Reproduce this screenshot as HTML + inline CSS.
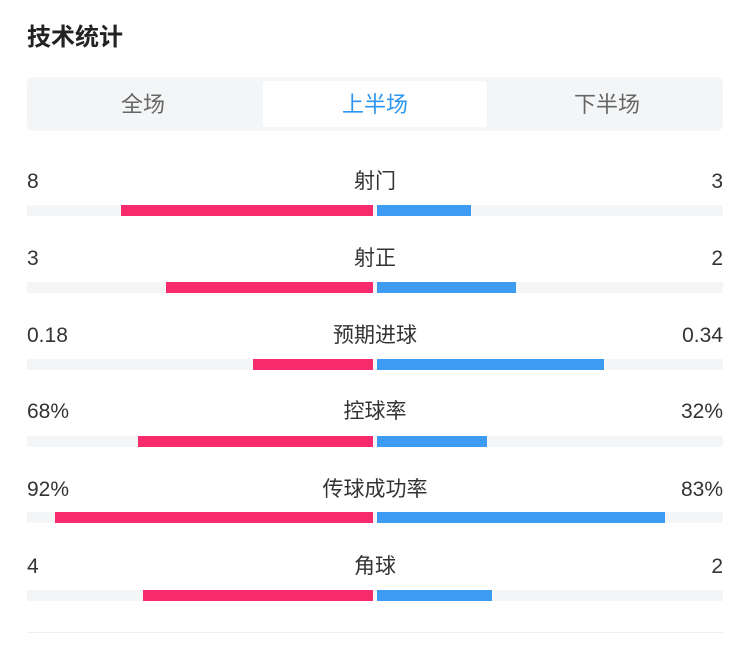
<!DOCTYPE html>
<html><head><meta charset="utf-8"><style>
body{margin:0;width:750px;height:657px;background:#fff;font-family:"Liberation Sans","Noto Sans CJK SC",sans-serif;position:relative;overflow:hidden;color:#333}
.t{position:absolute;left:27px;top:17px;font-size:24px;font-weight:bold;color:#222}
.tabs{position:absolute;left:27px;top:77px;width:696px;height:54px;background:#f4f5f7;border-radius:6px}
.tab{position:absolute;top:4px;height:46px;line-height:48px;width:224px;text-align:center;font-size:22px;color:#666}
.act{background:#fff;color:#2d96f0;border-radius:3px}
.l,.r,.c{position:absolute;font-size:21px;color:#333;line-height:24px}
.l{left:27px}.r{right:27px}.c{left:0;width:750px;text-align:center}
.tr{position:absolute;left:27px;width:696px;height:11px;background:#f4f5f7}
.red,.blue{position:absolute;height:11px}
.red{background:#f72a6c}.blue{background:#3d9cf2}
.line{position:absolute;left:27px;width:696px;top:632px;height:1px;background:#eee}
</style></head><body>
<div class="t">技术统计</div>
<div class="tabs">
<div class="tab" style="left:4px">全场</div>
<div class="tab act" style="left:236px">上半场</div>
<div class="tab" style="left:468px">下半场</div>
</div>

<div class="l" style="top:170px">8</div><div class="c" style="top:170px">射门</div><div class="r" style="top:170px">3</div>
<div class="tr" style="top:205px"></div><div class="red" style="top:205px;left:121px;width:252px"></div><div class="blue" style="top:205px;left:377px;width:94px"></div>

<div class="l" style="top:247px">3</div><div class="c" style="top:247px">射正</div><div class="r" style="top:247px">2</div>
<div class="tr" style="top:282px"></div><div class="red" style="top:282px;left:166px;width:207px"></div><div class="blue" style="top:282px;left:377px;width:139px"></div>

<div class="l" style="top:324px">0.18</div><div class="c" style="top:324px">预期进球</div><div class="r" style="top:324px">0.34</div>
<div class="tr" style="top:359px"></div><div class="red" style="top:359px;left:253px;width:120px"></div><div class="blue" style="top:359px;left:377px;width:227px"></div>

<div class="l" style="top:400px">68%</div><div class="c" style="top:400px">控球率</div><div class="r" style="top:400px">32%</div>
<div class="tr" style="top:436px"></div><div class="red" style="top:436px;left:138px;width:235px"></div><div class="blue" style="top:436px;left:377px;width:110px"></div>

<div class="l" style="top:478px">92%</div><div class="c" style="top:478px">传球成功率</div><div class="r" style="top:478px">83%</div>
<div class="tr" style="top:512px"></div><div class="red" style="top:512px;left:55px;width:318px"></div><div class="blue" style="top:512px;left:377px;width:288px"></div>

<div class="l" style="top:555px">4</div><div class="c" style="top:555px">角球</div><div class="r" style="top:555px">2</div>
<div class="tr" style="top:590px"></div><div class="red" style="top:590px;left:143px;width:230px"></div><div class="blue" style="top:590px;left:377px;width:115px"></div>

<div class="line"></div>
</body></html>
